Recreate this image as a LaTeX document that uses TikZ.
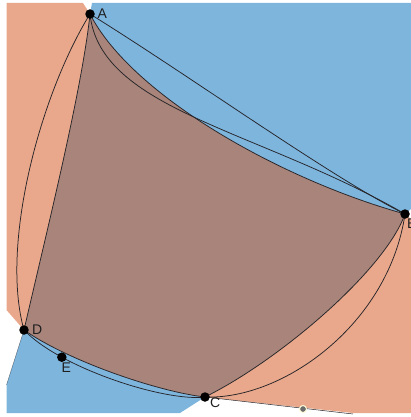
\documentclass[tikz,border=0pt]{standalone}
\usepackage{fontspec}
\setmainfont{Liberation Sans}
\usetikzlibrary{positioning}
\definecolor{tileorange}{RGB}{233,168,139}
\definecolor{tileblue}{RGB}{125,181,221}
\definecolor{tilebrown}{RGB}{168,132,122}
\definecolor{geodark}{RGB}{38,36,40}

\tikzset{
  vertex/.style={circle, fill=black, inner sep=0pt, minimum size=9.5pt},
  vlabel/.style={font=\fontsize{14}{14}\selectfont, text=black!88, inner sep=0pt},
  geoline/.style={draw=geodark, line width=0.75pt},
  handle/.style={circle, fill=gray!85!black, draw=yellow!15, line width=1pt, inner sep=0pt, minimum size=7pt},
}

\begin{document}
\begin{tikzpicture}[x=1pt, y=-1pt]
  \useasboundingbox (0,0) rectangle (411,417);

  \coordinate (A) at (90,14);
  \coordinate (B) at (405,214);
  \coordinate (C) at (205,397);
  \coordinate (D) at (24,330);

  % tiles
  \fill[tileblue] (92,3) -- (A) .. controls (132,96) and (282,180) .. (B) -- (411,209) -- (411,3) -- cycle;
  \fill[tileorange] (6.5,3) -- (83,3) -- (A) .. controls (82,90) and (47,230) .. (D) -- (6.5,310) -- cycle;
  \fill[tileblue] (D) -- (6.5,385) -- (6.5,413) -- (180,413) -- (C) .. controls (160,392) and (70,362) .. (D);
  \fill[tileorange] (B) -- (411,219) -- (411,413) -- (353,413) -- (C) .. controls (280,360) and (385,270) .. (B);
  \fill[tilebrown] (A) .. controls (132,96) and (282,180) .. (B)
    .. controls (385,270) and (280,360) .. (C)
    .. controls (160,392) and (70,362) .. (D)
    .. controls (47,230) and (82,90) .. (A);

  % geodesics
  \draw[geoline] (A) .. controls (132,96) and (282,180) .. (B)
    .. controls (385,270) and (280,360) .. (C)
    .. controls (160,392) and (70,362) .. (D)
    .. controls (47,230) and (82,90) .. (A);
  \draw[geoline] (A) .. controls (190,76) and (335,180) .. (B);
  \draw[geoline] (A) .. controls (100,110) and (260,130) .. (B);
  \draw[geoline] (B) .. controls (389,324) and (283,400) .. (C);
  \draw[geoline] (D) .. controls (60,368) and (165,402) .. coordinate[pos=0.25] (E) (C);
  \draw[geoline] (D) .. controls (0,245) and (40,95) .. (A);
  \coordinate (Cend) at (353,414);
  \draw[geoline, line width=0.5pt] (C) -- (Cend);
  \coordinate (Dend) at (6.5,385);
  \draw[geoline, line width=0.4pt, draw opacity=0.6] (D) -- (Dend);

  \node[handle] (P) at (303,409) {};

  % points
  \node[vertex] (dotA) at (A) {};
  \node[vertex] (dotB) at (B) {};
  \node[vertex] (dotC) at (C) {};
  \node[vertex] (dotD) at (D) {};
  \node[vertex] (dotE) at (E) {};
  \node[vlabel, right=2.5pt of dotA] (labA) {A};
  \node[vlabel, below right=1pt and -1.5pt of dotB] (labB) {B};
  \node[vlabel, below right=-2.5pt and 1.5pt of dotC] (labC) {C};
  \node[vlabel, right=3pt of dotD] (labD) {D};
  \node[vlabel, below=1pt of dotE, xshift=4.5pt] (labE) {E};
\end{tikzpicture}
\end{document}
